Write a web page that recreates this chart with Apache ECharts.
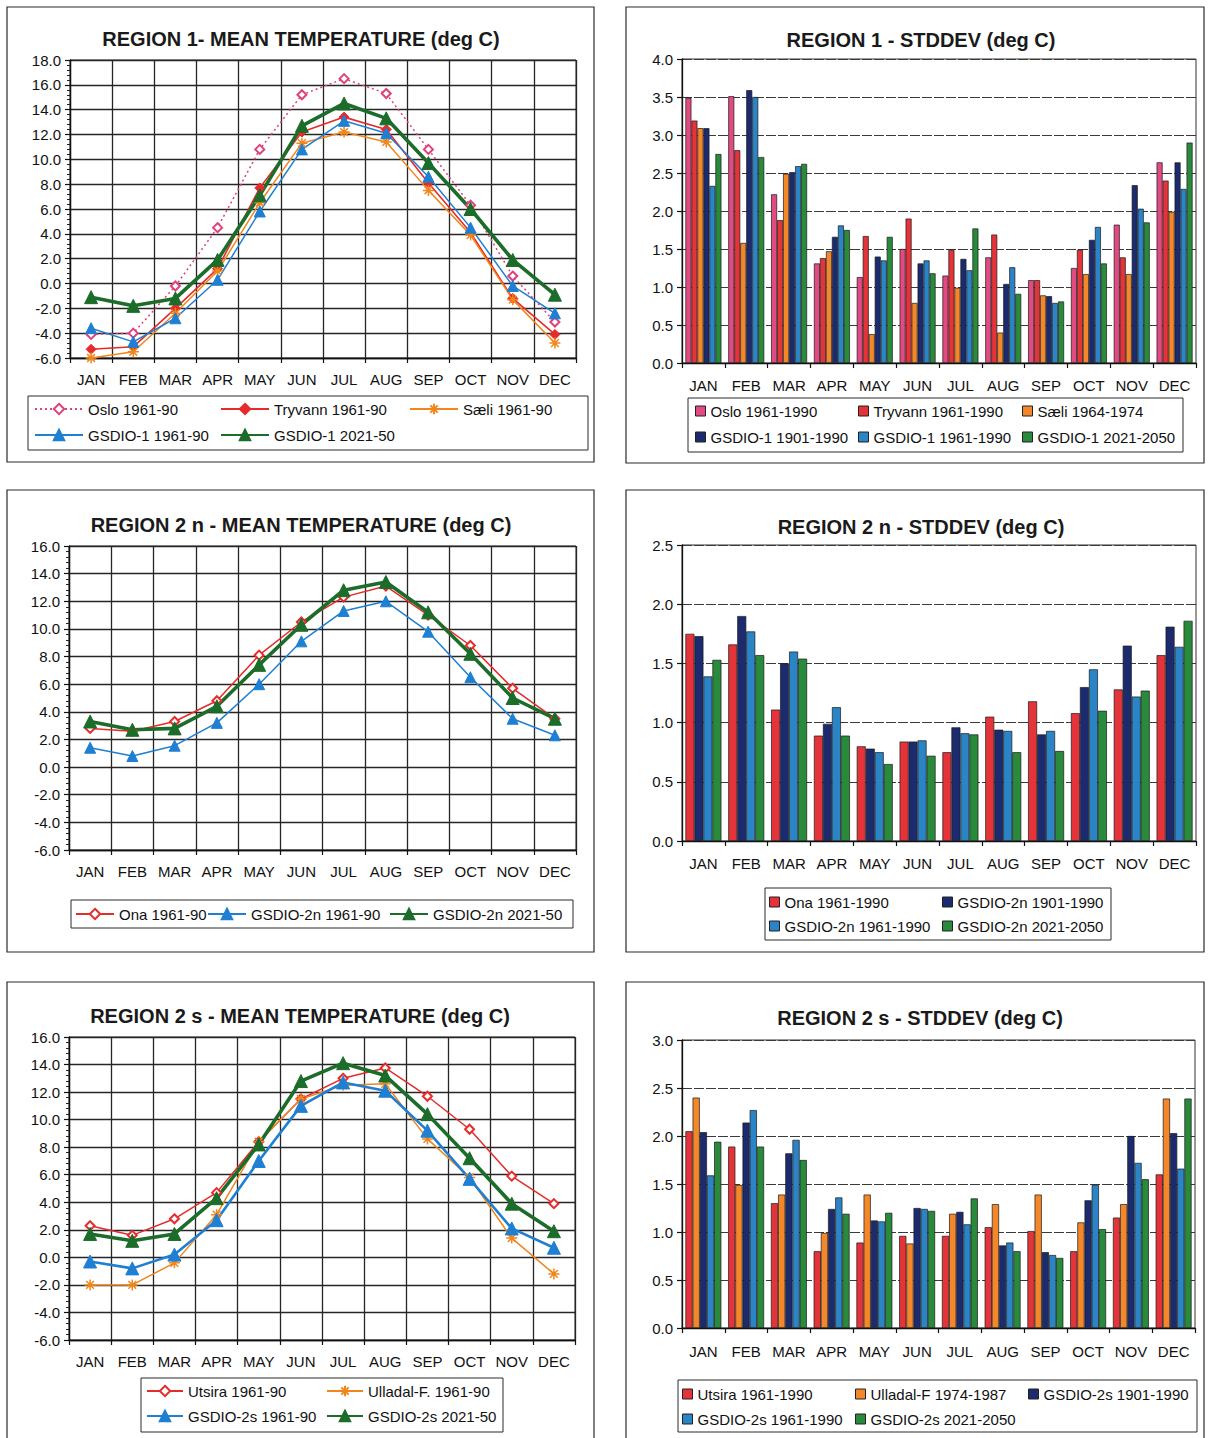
<!DOCTYPE html>
<html>
<head>
<meta charset="utf-8">
<script src="https://cdn.jsdelivr.net/npm/echarts@6/dist/echarts.min.js"></script>
<style>
  html, body { margin: 0; padding: 0; background: #fff; }
  #chart { width: 1213px; height: 1438px; }
</style>
</head>
<body>
<div id="chart"></div>
<script>
const months = ['JAN', 'FEB', 'MAR', 'APR', 'MAY', 'JUN', 'JUL', 'AUG', 'SEP', 'OCT', 'NOV', 'DEC'];

// Region 1 – monthly mean temperature (deg C)
const r1MeanOslo    = [-4.1, -4.0, -0.2, 4.5, 10.8, 15.2, 16.5, 15.3, 10.8, 6.3, 0.6, -3.1];
const r1MeanTryvann = [-5.3, -5.1, -2.0, 1.2, 7.7, 12.2, 13.4, 12.4, 8.1, 4.1, -1.2, -4.1];
const r1MeanSaeli   = [-6.0, -5.5, -2.4, 1.0, 6.5, 11.3, 12.2, 11.4, 7.5, 3.9, -1.3, -4.8];
const r1MeanGs6190  = [-3.6, -4.7, -2.8, 0.3, 5.8, 10.8, 13.1, 12.1, 8.6, 4.5, -0.2, -2.4];
const r1MeanGs2150  = [-1.1, -1.8, -1.2, 1.9, 7.1, 12.7, 14.5, 13.3, 9.7, 6.0, 1.9, -0.9];

// Region 1 – standard deviation (deg C)
const r1SdOslo    = [3.49, 3.51, 2.22, 1.31, 1.13, 1.50, 1.15, 1.39, 1.09, 1.25, 1.82, 2.64];
const r1SdTryvann = [3.19, 2.80, 1.88, 1.38, 1.67, 1.90, 1.49, 1.69, 1.09, 1.49, 1.39, 2.40];
const r1SdSaeli   = [3.09, 1.58, 2.49, 1.47, 0.38, 0.79, 0.99, 0.40, 0.89, 1.17, 1.17, 1.99];
const r1SdGs0190  = [3.09, 3.59, 2.51, 1.66, 1.40, 1.31, 1.37, 1.04, 0.88, 1.62, 2.34, 2.64];
const r1SdGs6190  = [2.33, 3.50, 2.59, 1.81, 1.35, 1.35, 1.22, 1.26, 0.79, 1.79, 2.03, 2.29];
const r1SdGs2150  = [2.75, 2.71, 2.62, 1.75, 1.66, 1.18, 1.77, 0.91, 0.81, 1.31, 1.85, 2.90];

// Region 2 n – monthly mean temperature (deg C)
const r2nMeanOna    = [2.8, 2.6, 3.3, 4.8, 8.1, 10.5, 12.3, 13.1, 11.0, 8.8, 5.7, 3.5];
const r2nMeanGs6190 = [1.4, 0.8, 1.55, 3.2, 6.0, 9.1, 11.3, 12.0, 9.8, 6.5, 3.5, 2.3];
const r2nMeanGs2150 = [3.3, 2.7, 2.8, 4.4, 7.4, 10.3, 12.8, 13.4, 11.2, 8.2, 5.0, 3.5];

// Region 2 n – standard deviation (deg C)
const r2nSdOna    = [1.75, 1.66, 1.11, 0.89, 0.80, 0.84, 0.75, 1.05, 1.18, 1.08, 1.28, 1.57];
const r2nSdGs0190 = [1.73, 1.90, 1.50, 0.99, 0.78, 0.84, 0.96, 0.94, 0.90, 1.30, 1.65, 1.81];
const r2nSdGs6190 = [1.39, 1.77, 1.60, 1.13, 0.75, 0.85, 0.91, 0.93, 0.93, 1.45, 1.22, 1.64];
const r2nSdGs2150 = [1.53, 1.57, 1.54, 0.89, 0.65, 0.72, 0.90, 0.75, 0.76, 1.10, 1.27, 1.86];

// Region 2 s – monthly mean temperature (deg C)
const r2sMeanUtsira  = [2.3, 1.6, 2.8, 4.7, 8.4, 11.5, 13.0, 13.75, 11.7, 9.3, 5.9, 3.9];
const r2sMeanUlladal = [-2.0, -2.0, -0.4, 3.1, 8.4, 11.5, 12.5, 12.6, 8.6, 5.8, 1.4, -1.2];
const r2sMeanGs6190  = [-0.3, -0.8, 0.2, 2.7, 7.0, 11.0, 12.7, 12.1, 9.2, 5.7, 2.1, 0.7];
const r2sMeanGs2150  = [1.7, 1.2, 1.7, 4.3, 8.2, 12.8, 14.1, 13.2, 10.4, 7.2, 3.9, 1.9];

// Region 2 s – standard deviation (deg C)
const r2sSdUtsira  = [2.05, 1.89, 1.30, 0.80, 0.89, 0.96, 0.96, 1.05, 1.01, 0.80, 1.15, 1.60];
const r2sSdUlladal = [2.40, 1.49, 1.39, 0.99, 1.39, 0.88, 1.19, 1.29, 1.39, 1.10, 1.29, 2.39];
const r2sSdGs0190  = [2.04, 2.14, 1.82, 1.24, 1.12, 1.25, 1.21, 0.86, 0.79, 1.33, 2.00, 2.03];
const r2sSdGs6190  = [1.59, 2.27, 1.96, 1.36, 1.11, 1.24, 1.08, 0.89, 0.76, 1.49, 1.72, 1.66];
const r2sSdGs2150  = [1.94, 1.89, 1.75, 1.19, 1.20, 1.22, 1.35, 0.80, 0.73, 1.03, 1.55, 2.39];

const FONT = '"Liberation Sans", Arial, Helvetica, sans-serif';
const INK = '#111';

// marker used for the Sæli / Ulladal station curves
const ASTERISK = 'path://M0,5L10,5M5,0L5,10M1.5,1.5L8.5,8.5M1.5,8.5L8.5,1.5';

const C = {
  pinkLine: '#e0407c', redLine: '#e62b2b', orangeLine: '#f0861c', blueLine: '#1f7fd2', greenLine: '#1c6c2a',
  pink: '#e24a82', red: '#e5333a', orange: '#f3872a', navy: '#1c2b6e', blue: '#2b84c6', green: '#2a8a3c'
};

const lineLook = {
  stationDotted: { color: C.pinkLine, width: 1.5, type: [2, 3], symbol: 'emptyDiamond', size: 9, bw: 1.5 },
  stationDiamond:{ color: C.redLine, width: 1.6, type: 'solid', symbol: 'diamond', size: 10, bw: 1 },
  stationOpen:   { color: C.redLine, width: 1.5, type: 'solid', symbol: 'emptyDiamond', size: 9, bw: 1.5 },
  stationStar:   { color: C.orangeLine, width: 1.5, type: 'solid', symbol: ASTERISK, size: 11, bw: 1.5 },
  modelThin:     { color: C.blueLine, width: 1.5, type: 'solid', symbol: 'triangle', size: 11, bw: 1 },
  modelMid:      { color: C.blueLine, width: 2.6, type: 'solid', symbol: 'triangle', size: 13, bw: 1 },
  future:        { color: C.greenLine, width: 3.6, type: 'solid', symbol: 'triangle', size: 13, bw: 1 }
};

function lineSeries(name, data, gi, look) {
  return {
    type: 'line', name, data, xAxisIndex: gi, yAxisIndex: gi,
    symbol: look.symbol, symbolSize: look.size, showSymbol: true, animation: false, silent: true,
    lineStyle: { color: look.color, width: look.width, type: look.type },
    itemStyle: { color: look.color, borderColor: look.color, borderWidth: look.bw },
    emphasis: { disabled: true }
  };
}

function barSeries(name, data, gi, color) {
  return {
    type: 'bar', name, data, xAxisIndex: gi, yAxisIndex: gi,
    barGap: '0%', barCategoryGap: '16%', animation: false, silent: true,
    itemStyle: { color, borderColor: '#1a1a1a', borderWidth: 0.7 },
    emphasis: { disabled: true }
  };
}

const grids = [
  { left: 70,  top: 60,   width: 506, height: 298 },
  { left: 682, top: 59,   width: 514, height: 304 },
  { left: 69,  top: 546,  width: 507, height: 304 },
  { left: 682, top: 545,  width: 514, height: 296 },
  { left: 69,  top: 1037, width: 506, height: 303 },
  { left: 682, top: 1040, width: 513, height: 288 }
];
const isLinePanel = [true, false, true, false, true, false];
const yRange = [[-6, 18, 2], [0, 4, 0.5], [-6, 16, 2], [0, 2.5, 0.5], [-6, 16, 2], [0, 3, 0.5]];
const labelMargin = [14, 15, 14, 15, 14, 16];

const xAxes = grids.map((g, i) => ({
  gridIndex: i, type: 'category', data: months, boundaryGap: true,
  axisLine: { onZero: false, lineStyle: { color: INK, width: 1.3 } },
  axisTick: { show: true, length: 5, lineStyle: { color: INK, width: 1.2 } },
  axisLabel: { interval: 0, margin: labelMargin[i], fontFamily: FONT, fontSize: 15, color: INK },
  splitLine: { show: isLinePanel[i], lineStyle: { color: '#262626', width: 1.3 } }
}));

const yAxes = grids.map((g, i) => ({
  gridIndex: i, type: 'value', min: yRange[i][0], max: yRange[i][1], interval: yRange[i][2],
  axisLine: { show: true, lineStyle: { color: INK, width: 1.3 } },
  axisTick: { show: true, length: 5, lineStyle: { color: INK, width: 1.2 } },
  minorTick: { show: isLinePanel[i], splitNumber: 5, length: 3, lineStyle: { color: '#222' } },
  axisLabel: { margin: 9, fontFamily: FONT, fontSize: 15, color: INK, formatter: v => v.toFixed(1) },
  splitLine: {
    show: true,
    lineStyle: isLinePanel[i]
      ? { color: '#262626', width: 1.3 }
      : { color: '#3a3a3a', width: 1.1, type: [10, 2] }
  }
}));

const series = [
  lineSeries('Oslo 1961-90', r1MeanOslo, 0, lineLook.stationDotted),
  lineSeries('Tryvann 1961-90', r1MeanTryvann, 0, lineLook.stationDiamond),
  lineSeries('Sæli 1961-90', r1MeanSaeli, 0, lineLook.stationStar),
  lineSeries('GSDIO-1 1961-90', r1MeanGs6190, 0, lineLook.modelThin),
  lineSeries('GSDIO-1 2021-50', r1MeanGs2150, 0, lineLook.future),

  barSeries('Oslo 1961-1990', r1SdOslo, 1, C.pink),
  barSeries('Tryvann 1961-1990', r1SdTryvann, 1, C.red),
  barSeries('Sæli 1964-1974', r1SdSaeli, 1, C.orange),
  barSeries('GSDIO-1 1901-1990', r1SdGs0190, 1, C.navy),
  barSeries('GSDIO-1 1961-1990', r1SdGs6190, 1, C.blue),
  barSeries('GSDIO-1 2021-2050', r1SdGs2150, 1, C.green),

  lineSeries('Ona 1961-90', r2nMeanOna, 2, lineLook.stationOpen),
  lineSeries('GSDIO-2n 1961-90', r2nMeanGs6190, 2, lineLook.modelThin),
  lineSeries('GSDIO-2n 2021-50', r2nMeanGs2150, 2, lineLook.future),

  barSeries('Ona 1961-1990', r2nSdOna, 3, C.red),
  barSeries('GSDIO-2n 1901-1990', r2nSdGs0190, 3, C.navy),
  barSeries('GSDIO-2n 1961-1990', r2nSdGs6190, 3, C.blue),
  barSeries('GSDIO-2n 2021-2050', r2nSdGs2150, 3, C.green),

  lineSeries('Utsira 1961-90', r2sMeanUtsira, 4, lineLook.stationOpen),
  lineSeries('Ulladal-F. 1961-90', r2sMeanUlladal, 4, lineLook.stationStar),
  lineSeries('GSDIO-2s 1961-90', r2sMeanGs6190, 4, lineLook.modelMid),
  lineSeries('GSDIO-2s 2021-50', r2sMeanGs2150, 4, lineLook.future),

  barSeries('Utsira 1961-1990', r2sSdUtsira, 5, C.red),
  barSeries('Ulladal-F 1974-1987', r2sSdUlladal, 5, C.orange),
  barSeries('GSDIO-2s 1901-1990', r2sSdGs0190, 5, C.navy),
  barSeries('GSDIO-2s 1961-1990', r2sSdGs6190, 5, C.blue),
  barSeries('GSDIO-2s 2021-2050', r2sSdGs2150, 5, C.green)
];

// one legend entry per placed item: [series name, icon left, row centre, line-icon width (0 = swatch)]
const legendPlacement = [
  ['Oslo 1961-90', 34, 409, 48], ['Tryvann 1961-90', 220, 409, 48], ['Sæli 1961-90', 409, 409, 48],
  ['GSDIO-1 1961-90', 34, 435, 48], ['GSDIO-1 2021-50', 220, 435, 48],

  ['Oslo 1961-1990', 695, 411, 0], ['Tryvann 1961-1990', 858, 411, 0], ['Sæli 1964-1974', 1022, 411, 0],
  ['GSDIO-1 1901-1990', 695, 437, 0], ['GSDIO-1 1961-1990', 858, 437, 0], ['GSDIO-1 2021-2050', 1022, 437, 0],

  ['Ona 1961-90', 75, 914, 38], ['GSDIO-2n 1961-90', 207, 914, 38], ['GSDIO-2n 2021-50', 389, 914, 38],

  ['Ona 1961-1990', 769, 902, 0], ['GSDIO-2n 1901-1990', 942, 902, 0],
  ['GSDIO-2n 1961-1990', 769, 926, 0], ['GSDIO-2n 2021-2050', 942, 926, 0],

  ['Utsira 1961-90', 146, 1391, 36], ['Ulladal-F. 1961-90', 326, 1391, 36],
  ['GSDIO-2s 1961-90', 146, 1416, 36], ['GSDIO-2s 2021-50', 326, 1416, 36],

  ['Utsira 1961-1990', 682, 1394, 0], ['Ulladal-F 1974-1987', 855, 1394, 0], ['GSDIO-2s 1901-1990', 1028, 1394, 0],
  ['GSDIO-2s 1961-1990', 682, 1419, 0], ['GSDIO-2s 2021-2050', 855, 1419, 0]
];

const legends = legendPlacement.map(([name, left, cy, w]) => {
  const base = {
    data: [name], left, top: cy - 9, padding: 0, itemGap: 0, selectedMode: false,
    textStyle: { fontFamily: FONT, fontSize: 15, color: INK, lineHeight: 18 }
  };
  if (w > 0) {
    base.itemWidth = w;
    base.itemHeight = 13;
  } else {
    base.icon = 'rect';
    base.itemWidth = 10;
    base.itemHeight = 10;
    base.itemStyle = { borderColor: '#222', borderWidth: 1 };
  }
  return base;
});

const frame = (x, y, w, h, lw) => ({
  type: 'rect', silent: true, z: 0,
  shape: { x, y, width: w, height: h },
  style: { fill: 'none', stroke: '#2a2a2a', lineWidth: lw }
});
const heading = (x, y, text) => ({
  type: 'text', silent: true, x, y,
  style: { text, font: 'bold 20px ' + FONT, fill: '#1a1a1a', textAlign: 'center', textVerticalAlign: 'middle' }
});

const graphics = [
  frame(7, 7, 587, 455, 1.2), frame(626, 7, 578, 456, 1.2),
  frame(7, 490, 587, 462, 1.2), frame(626, 490, 578, 462, 1.2),
  frame(7, 982, 587, 470, 1.2), frame(626, 982, 578, 470, 1.2),

  frame(28, 396, 560, 54, 1), frame(688, 398, 495, 54, 1),
  frame(71, 900, 502, 28, 1), frame(765, 888, 346, 52, 1),
  frame(141, 1378, 362, 54, 1), frame(678, 1380, 519, 52, 1),

  heading(301, 39, 'REGION 1- MEAN TEMPERATURE (deg C)'),
  heading(921, 40, 'REGION 1 - STDDEV (deg C)'),
  heading(301, 525, 'REGION 2 n - MEAN TEMPERATURE (deg C)'),
  heading(921, 527, 'REGION 2 n - STDDEV (deg C)'),
  heading(300, 1016, 'REGION 2 s - MEAN TEMPERATURE (deg C)'),
  heading(920, 1018, 'REGION 2 s - STDDEV (deg C)')
];

const chart = echarts.init(document.getElementById('chart'), null, { renderer: 'svg' });
chart.setOption({
  backgroundColor: '#fff',
  animation: false,
  grid: grids.map(g => Object.assign({ show: true, borderColor: '#333', borderWidth: 1, backgroundColor: 'transparent' }, g)),
  xAxis: xAxes,
  yAxis: yAxes,
  legend: legends,
  tooltip: { show: false },
  series,
  graphic: graphics
});
</script>
</body>
</html>
